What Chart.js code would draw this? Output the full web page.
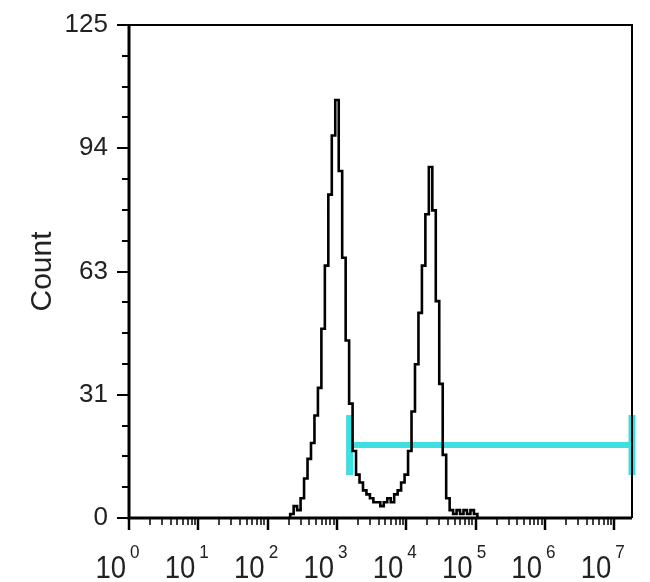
<!DOCTYPE html>
<html>
<head>
<meta charset="utf-8">
<script src="https://cdn.jsdelivr.net/npm/chart.js@4"></script>
<style>
    html, body { margin: 0; padding: 0; background: #fff; }
    #wrap { width: 650px; height: 582px; }
</style>
</head>
<body>
<div id="wrap"><canvas id="hist" width="650" height="582"></canvas></div>
<script>
// Histograma de citometría - conteo vs intensidad (escala log)

// canales en décadas log10, empiezan en 2.30 y avanzan 0.05
const binStart = 2.30;
const binStep = 0.05;
const counts = [
    0, 1, 3, 2, 5, 10, 15, 19, 26, 33,
    48, 64, 82, 97, 106, 88, 66, 45, 29, 17,
    11, 9, 7, 6, 5, 4, 4, 3, 4, 5,
    4, 6, 7, 9, 11, 17, 27, 39, 52, 64,
    77, 89, 78, 55, 34, 16, 5, 2, 1, 2,
    1, 2, 1, 2, 1, 0
];

// compuerta (gate) cian
const gateX = [1520, 18000000];
const gateY = 18.5;
const gateCap = [10.9, 26.1];

// ejes
const yTickValues = [0, 31.25, 62.5, 93.75, 125];
const yMinorStep = 7.8125;
const xDecades = [0, 1, 2, 3, 4, 5, 6, 7];
const xMax = 18000000;

const histData = counts.map((c, i) => ({ x: Math.pow(10, binStart + i * binStep), y: c }));
const gateLine = gateX.map(x => ({ x: x, y: gateY }));
const capLeft = gateCap.map(y => ({ x: gateX[0], y: y }));
const capRight = gateCap.map(y => ({ x: gateX[1], y: y }));

const CYAN = '#3ddfe0';
const FONT = '"Liberation Sans", Arial, sans-serif';

// dibuja marco, marcas de ejes y etiquetas 10^n
const axisDecor = {
    id: 'axisDecor',
    afterDraw(chart) {
        const ctx = chart.ctx;
        const a = chart.chartArea;
        const xs = chart.scales.x;
        const ys = chart.scales.y;
        ctx.save();
        ctx.strokeStyle = '#000';
        ctx.lineCap = 'butt';

        // marco
        ctx.lineWidth = 2;
        ctx.beginPath();
        ctx.moveTo(a.left, a.top);
        ctx.lineTo(a.right, a.top);
        ctx.lineTo(a.right, a.bottom);
        ctx.stroke();
        ctx.lineWidth = 3;
        ctx.beginPath();
        ctx.moveTo(a.left, a.top - 1);
        ctx.lineTo(a.left, a.bottom);
        ctx.lineTo(a.right, a.bottom);
        ctx.stroke();

        // marcas eje y
        for (let v = 0; v <= 125.001; v += yMinorStep) {
            const py = Math.round(ys.getPixelForValue(v));
            const major = yTickValues.some(t => Math.abs(t - v) < 0.01);
            ctx.lineWidth = 2;
            ctx.beginPath();
            ctx.moveTo(a.left - (major ? 12 : 7), py);
            ctx.lineTo(a.left, py);
            ctx.stroke();
        }

        // marcas eje x
        xDecades.forEach(d => {
            for (let m = 1; m <= 9; m++) {
                const val = m * Math.pow(10, d);
                if (val > xMax) break;
                const px = Math.round(xs.getPixelForValue(val));
                ctx.lineWidth = m === 1 ? 2.5 : 1.5;
                ctx.beginPath();
                ctx.moveTo(px, a.bottom);
                ctx.lineTo(px, a.bottom + (m === 1 ? 12 : 7));
                ctx.stroke();
            }
        });

        // etiquetas 10^n (algo angostas, como en el original)
        ctx.fillStyle = '#222';
        ctx.textBaseline = 'alphabetic';
        xDecades.forEach(d => {
            const px = xs.getPixelForValue(Math.pow(10, d));
            ctx.save();
            ctx.translate(px - 3, 578);
            ctx.scale(0.86, 1);
            ctx.font = '32px ' + FONT;
            ctx.textAlign = 'right';
            ctx.fillText('10', 0, 0);
            ctx.restore();
            ctx.save();
            ctx.translate(px + 1, 558);
            ctx.scale(0.9, 1);
            ctx.font = '19px ' + FONT;
            ctx.textAlign = 'left';
            ctx.fillText(String(d), 0, 0);
            ctx.restore();
        });
        ctx.restore();
    }
};

const ctx = document.getElementById('hist').getContext('2d');

new Chart(ctx, {
    type: 'line',
    data: {
        datasets: [
            {
                label: 'Count',
                data: histData,
                borderColor: '#000',
                borderWidth: 2.6,
                stepped: 'middle',
                pointRadius: 0,
                fill: false,
                order: 0
            },
            {
                label: 'Gate',
                data: gateLine,
                borderColor: CYAN,
                borderWidth: 6,
                pointRadius: 0,
                clip: false,
                order: 1
            },
            {
                label: 'GateL',
                data: capLeft,
                borderColor: CYAN,
                borderWidth: 7,
                pointRadius: 0,
                clip: false,
                order: 1
            },
            {
                label: 'GateR',
                data: capRight,
                borderColor: CYAN,
                borderWidth: 7,
                pointRadius: 0,
                clip: false,
                order: 1
            }
        ]
    },
    options: {
        responsive: false,
        animation: false,
        layout: { padding: { top: 25, right: 18, left: 0, bottom: 0 } },
        plugins: {
            legend: { display: false },
            tooltip: { enabled: false }
        },
        scales: {
            x: {
                type: 'logarithmic',
                min: 1,
                max: xMax,
                grid: { display: false },
                border: { display: false },
                ticks: { display: false },
                afterFit: function (scale) {
                    scale.height = 64;
                    scale.paddingLeft = 0;
                    scale.paddingRight = 0;
                }
            },
            y: {
                type: 'linear',
                min: 0,
                max: 125,
                grid: { display: false, drawTicks: false },
                border: { display: false },
                ticks: {
                    stepSize: 31.25,
                    autoSkip: false,
                    padding: 21,
                    color: '#222',
                    font: { family: FONT, size: 26 },
                    callback: function (value) { return String(Math.round(value)); }
                },
                title: {
                    display: true,
                    text: 'Count',
                    color: '#222',
                    font: { family: FONT, size: 30 },
                    padding: { top: 25, bottom: 0 }
                },
                afterFit: function (scale) {
                    scale.width = 129;
                    scale.paddingTop = 0;
                    scale.paddingBottom = 0;
                }
            }
        }
    },
    plugins: [axisDecor]
});
</script>
</body>
</html>
